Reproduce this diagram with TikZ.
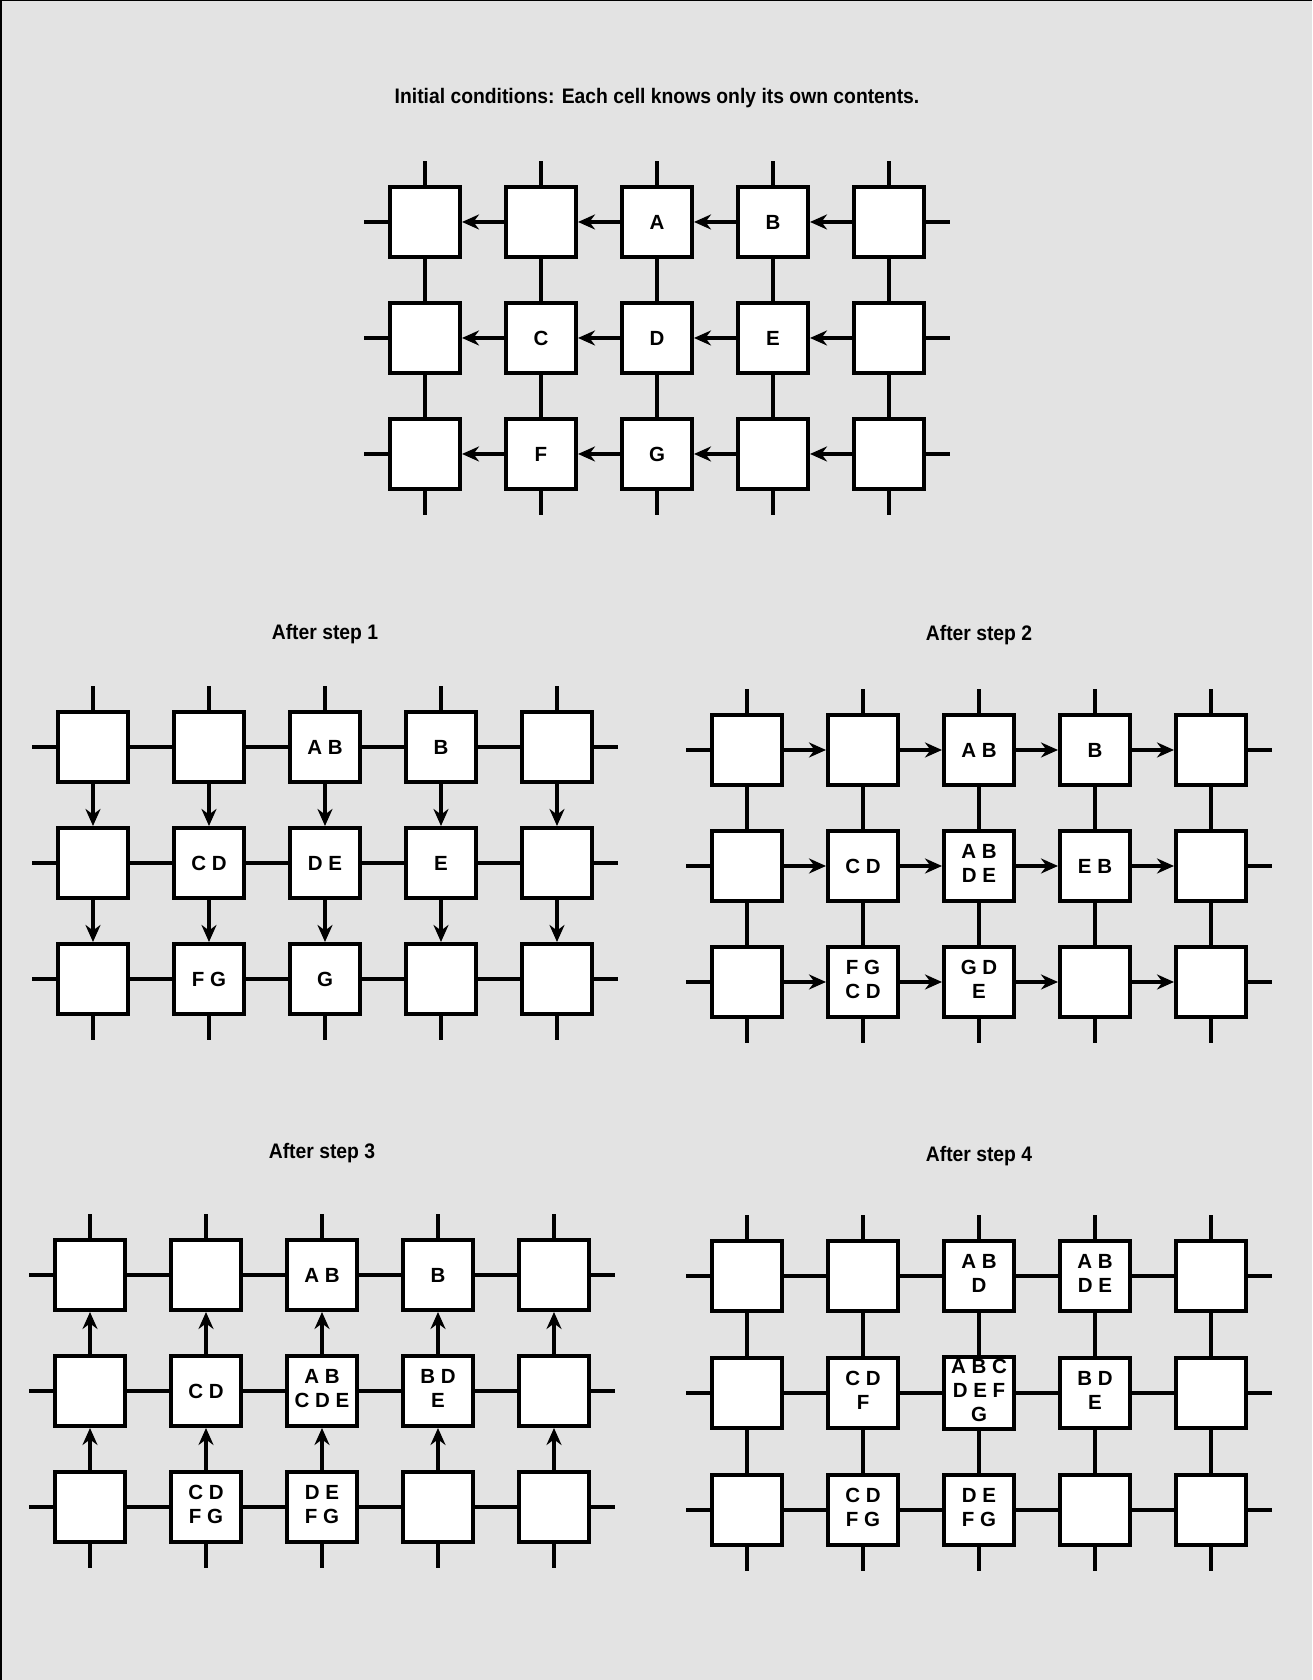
\documentclass[tikz,border=0pt]{standalone}
\usepackage{fontspec}
\setmainfont{Liberation Sans}
\newfontfamily\headfont{Liberation Sans}[FakeStretch=0.92]
\usetikzlibrary{matrix,positioning,arrows.meta}
\definecolor{paper}{gray}{0.89}

% stacked contents inside one cell
\newcommand{\twolines}[2]{\begin{tabular}{@{}c@{}}#1\tabularnewline #2\end{tabular}}
\newcommand{\threelines}[3]{\begin{tabular}{@{}c@{}}#1\tabularnewline #2\tabularnewline #3\end{tabular}}

\tikzset{
  cellbox/.style={draw, line width=4pt, fill=white, minimum size=70pt,
    inner sep=0pt, anchor=center, font=\bfseries\fontsize{20.5}{24}\selectfont},
  grid/.style={matrix of nodes, nodes in empty cells,
    row sep=42pt, column sep=42pt, inner sep=0pt, nodes={cellbox}},
  wire/.style={line width=3.5pt},
  flow/.style={wire, -{Stealth[length=17pt,width=15pt]}},
  heading/.style={inner sep=0pt, font=\headfont\bfseries\fontsize{21}{25}\selectfont}
}

\begin{document}
\begin{tikzpicture}[x=1pt,y=1pt]
\useasboundingbox (0,0) rectangle (1312,1680);
\fill[paper] (0,0) rectangle (1312,1680);
\draw[line width=3pt] (0,1680) -- (1312,1680) (0,1680) -- (0,0);

\matrix (init) [grid] at (657,1342) {
  & & A & B & \\
  & C & D & E & \\
  & F & G & & \\
};
\matrix (s1) [grid] at (325,817) {
  & & A B & B & \\
  & C D & D E & E & \\
  & F G & G & & \\
};
\matrix (s2) [grid] at (979,814) {
  & & A B & B & \\
  & C D & \twolines{A B}{D E} & E B & \\
  & \twolines{F G}{C D} & \twolines{G D}{E} & & \\
};
\matrix (s3) [grid] at (322,289) {
  & & A B & B & \\
  & C D & \twolines{A B}{C D E} & \twolines{B D}{E} & \\
  & \twolines{C D}{F G} & \twolines{D E}{F G} & & \\
};
\matrix (s4) [grid] at (979,287) {
  & & \twolines{A B}{D} & \twolines{A B}{D E} & \\
  & \twolines{C D}{F} & \threelines{A B C}{D E F}{G} & \twolines{B D}{E} & \\
  & \twolines{C D}{F G} & \twolines{D E}{F G} & & \\
};

\node[heading, above=77pt of init-1-3] (initlabel) {Initial conditions: Each cell knows only its own contents.};
\node[heading, above=66pt of s1-1-3] (s1label) {After step 1};
\node[heading, above=68pt of s2-1-3] (s2label) {After step 2};
\node[heading, above=75pt of s3-1-3] (s3label) {After step 3};
\node[heading, above=73pt of s4-1-3] (s4label) {After step 4};

% initial: move left
\foreach \r in {1,2,3}
  \foreach \c/\n in {1/2,2/3,3/4,4/5}
    \path (init-\r-\n) edge[flow] (init-\r-\c);
\foreach \c in {1,...,5}
  \path (init-1-\c) edge[wire] (init-2-\c)
        (init-2-\c) edge[wire] (init-3-\c);

% step 1: move down
\foreach \r in {1,2,3}
  \foreach \c/\n in {1/2,2/3,3/4,4/5}
    \path (s1-\r-\c) edge[wire] (s1-\r-\n);
\foreach \c in {1,...,5}
  \path (s1-1-\c) edge[flow] (s1-2-\c)
        (s1-2-\c) edge[flow] (s1-3-\c);

% step 2: move right
\foreach \r in {1,2,3}
  \foreach \c/\n in {1/2,2/3,3/4,4/5}
    \path (s2-\r-\c) edge[flow] (s2-\r-\n);
\foreach \c in {1,...,5}
  \path (s2-1-\c) edge[wire] (s2-2-\c)
        (s2-2-\c) edge[wire] (s2-3-\c);

% step 3: move up
\foreach \r in {1,2,3}
  \foreach \c/\n in {1/2,2/3,3/4,4/5}
    \path (s3-\r-\c) edge[wire] (s3-\r-\n);
\foreach \c in {1,...,5}
  \path (s3-3-\c) edge[flow] (s3-2-\c)
        (s3-2-\c) edge[flow] (s3-1-\c);

% step 4: no moves
\foreach \r in {1,2,3}
  \foreach \c/\n in {1/2,2/3,3/4,4/5}
    \path (s4-\r-\c) edge[wire] (s4-\r-\n);
\foreach \c in {1,...,5}
  \path (s4-1-\c) edge[wire] (s4-2-\c)
        (s4-2-\c) edge[wire] (s4-3-\c);

% loose ends round each grid
\foreach \g in {init,s1,s2,s3,s4} {
  \foreach \c in {1,...,5}
    \draw[wire] (\g-1-\c.north) -- ++(0,24) (\g-3-\c.south) -- ++(0,-24);
  \foreach \r in {1,2,3}
    \draw[wire] (\g-\r-1.west) -- ++(-24,0) (\g-\r-5.east) -- ++(24,0);
}
\end{tikzpicture}
\end{document}
